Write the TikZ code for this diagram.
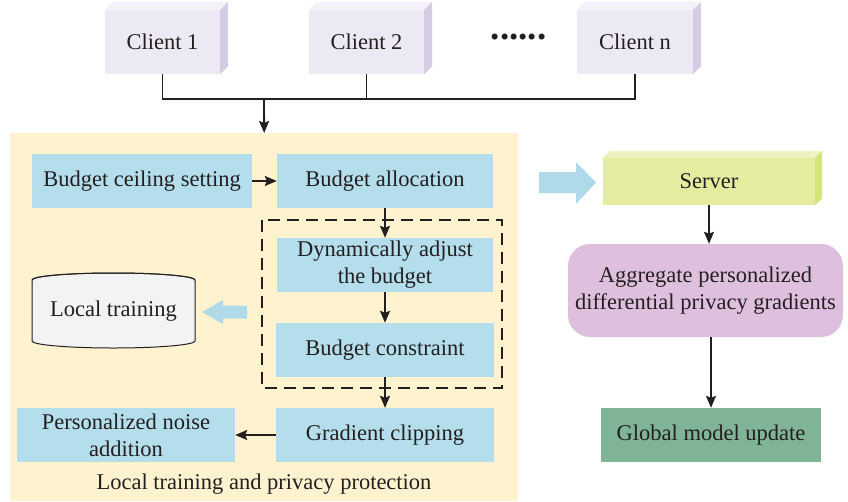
\documentclass[tikz,border=0pt]{standalone}
\usepackage{fontspec}
\setmainfont{Liberation Serif}
\usetikzlibrary{arrows.meta,calc}

\definecolor{ink}{HTML}{231F20}
\definecolor{clientfront}{HTML}{EDE9F4}
\definecolor{clientside}{HTML}{D5CCE4}
\definecolor{clienttop}{HTML}{F4F1F8}
\definecolor{bgyellow}{HTML}{FFF3CF}
\definecolor{stepblue}{HTML}{B4DEEB}
\definecolor{fatblue}{HTML}{AEDAE9}
\definecolor{serverfront}{HTML}{E5ECA0}
\definecolor{serverside}{HTML}{D6E27A}
\definecolor{servertop}{HTML}{EEF2BE}
\definecolor{aggpink}{HTML}{DEC0DE}
\definecolor{globalgreen}{HTML}{80B496}
\definecolor{dbgray}{HTML}{F2F4F3}

\begin{document}
\begin{tikzpicture}[x=1pt,y=-1pt,
  every node/.style={font=\fontsize{22.5}{27}\selectfont, text=ink, inner sep=0pt, align=center},
  client/.style={fill=clientfront, minimum width=115pt, minimum height=64pt},
  stepbox/.style={fill=stepblue, minimum width=216pt, minimum height=54pt},
  conn/.style={draw=ink, line width=1.8pt},
  arr/.style={conn, -{Stealth[length=12pt,width=10pt,inset=2pt]}},
  fatarrow/.style={fill=fatblue},
]
\useasboundingbox (0,0) rectangle (848,501);

% ---------- clients ----------
\node[client] (c1) at (162.5,42) {Client 1};
\node[client] (c2) at (366.5,42) {Client 2};
\node[client, minimum width=116pt] (cn) at (635,42) {Client n};
\foreach \c in {c1,c2,cn}{
  \fill[clienttop] (\c.north west) -- ++(8,-8) -- ($(\c.north east)+(8,-8)$) -- (\c.north east) -- cycle;
  \fill[clientside] (\c.north east) -- ++(8,-8) -- ($(\c.south east)+(8,-8)$) -- (\c.south east) -- cycle;
}
\node[font=\fontsize{37}{40}\selectfont\bfseries] (dots) at (518.5,37) {......};

% ---------- client bus ----------
\coordinate (bus) at (264,99);
\draw[conn] (c1.south) |- ($(cn.south)+(0,25)$) -- (cn.south);
\draw[conn] (c2.south) -- ++(0,25);

% ---------- local training and privacy protection ----------
\node[fill=bgyellow, minimum width=508pt, minimum height=368pt, anchor=north west] (ltp) at (10,133) {};
\draw[arr] (bus) -- (ltp.north);

\node[stepbox, minimum width=220pt] (bcs) at (142,181) {Budget ceiling setting};
\node[stepbox] (ba) at (385,181) {Budget allocation};
\node[stepbox] (dab) at (385,265) {Dynamically adjust\\the budget};
\node[stepbox, minimum width=218pt] (bcon) at (385,350) {Budget constraint};
\node[stepbox, minimum width=218pt] (gc) at (385,435) {Gradient clipping};
\node[stepbox, minimum width=218pt] (pna) at (126,435) {Personalized noise\\addition};

\draw[conn, dash pattern=on 12pt off 7pt] (262,220) rectangle (502,388);

\draw[arr] (bcs) -- (ba);
\draw[arr] (ba) -- (dab);
\draw[arr] (dab) -- (bcon);
\draw[arr] (bcon) -- (gc);
\draw[arr] (gc) -- (pna);

% local training database
\filldraw[fill=dbgray, draw=ink, line width=1pt]
  (32,280) -- (32,341) arc[start angle=180, end angle=360, x radius=81.5, y radius=-7]
  -- (195,280) arc[start angle=0, end angle=180, x radius=81.5, y radius=-7] -- cycle;
\draw[draw=ink, line width=1pt] (32,280) arc[start angle=180, end angle=360, x radius=81.5, y radius=7];
\node (lt) at (113.5,311) {Local training};

\fill[fatarrow] (247,305.5) -- (223,305.5) -- (223,300) -- (202,312) -- (223,324) -- (223,318.5) -- (247,318.5) -- cycle;

\node (cap) at (264,484) {Local training and privacy protection};

% ---------- server side ----------
\fill[fatarrow] (539,172) -- (576,172) -- (576,162) -- (596,182.5) -- (576,204) -- (576,193) -- (539,193) -- cycle;

\node[fill=serverfront, minimum width=212pt, minimum height=47pt] (srv) at (709,181.5) {Server};
\fill[servertop] (srv.north west) -- ++(7,-7) -- ($(srv.north east)+(7,-7)$) -- (srv.north east) -- cycle;
\fill[serverside] (srv.north east) -- ++(7,-7) -- ($(srv.south east)+(7,-7)$) -- (srv.south east) -- cycle;

\node[fill=aggpink, minimum width=275pt, minimum height=93pt, rounded corners=22pt] (agg) at (705.5,290.5)
  {Aggregate personalized\\differential privacy gradients};
\node[fill=globalgreen, minimum width=220pt, minimum height=54pt] (gmu) at (711,435) {Global model update};

\draw[arr] (srv.south) -- (srv.south |- agg.north);
\draw[arr] (gmu.north |- agg.south) -- (gmu.north);
\end{tikzpicture}
\end{document}
